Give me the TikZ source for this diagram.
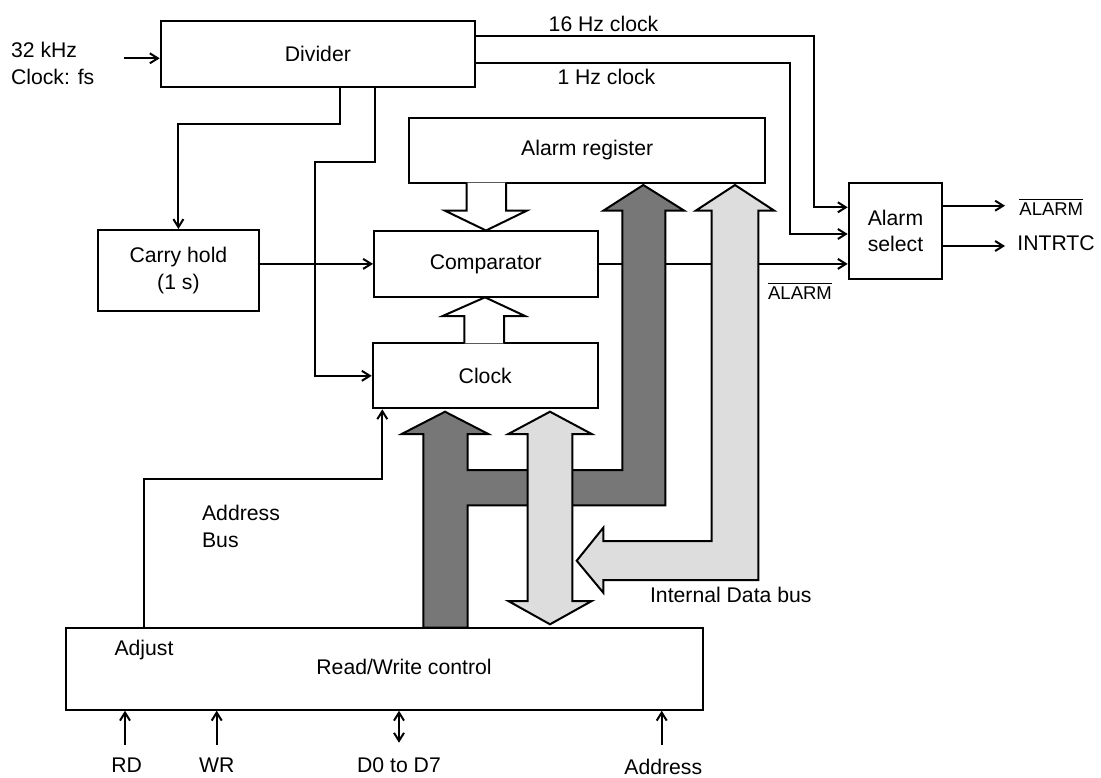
\documentclass[tikz,border=0pt]{standalone}
\usepackage{fontspec}
\setmainfont{Liberation Sans}
\usetikzlibrary{arrows.meta}
\definecolor{darkbus}{HTML}{777777}
\definecolor{lightbus}{HTML}{DDDDDD}
\begin{document}
\begin{tikzpicture}[x=0.5pt,y=-0.5pt,
  font=\fontsize{10.6}{13.4}\selectfont,
  box/.style={draw, line width=1pt, inner sep=0pt, align=center, fill=white},
  wire/.style={line width=1pt},
  arr/.style={wire, -{Straight Barb[length=4pt,width=5pt]}},
  darr/.style={wire, {Straight Barb[length=4pt,width=5pt]}-{Straight Barb[length=4pt,width=5pt]}},
  lbl/.style={inner sep=0pt},
  small/.style={font=\fontsize{9.25}{11}\selectfont},
  bus/.style={draw, line width=1pt, line join=miter}]
\useasboundingbox (0,0) rectangle (1101,777);

% blocks
\node[box, minimum width=157.2pt, minimum height=32.9pt] (div) at (317.9,53.9) {Divider};
\node[box, minimum width=80.7pt, minimum height=40.5pt] (carry) at (178.4,270.5) {Carry hold\\(1 s)};
\node[box, minimum width=177.9pt, minimum height=32.5pt] (areg) at (587.2,150.2) {Alarm register};
\node[box, minimum width=111.8pt, minimum height=32.9pt] (comp) at (485.8,263.9) {Comparator};
\node[box, minimum width=112.5pt, minimum height=32.5pt] (clock) at (485.2,375.8) {Clock};
\node[box, minimum width=46.8pt, minimum height=48.3pt] (sel) at (895.5,231) {Alarm\\select};
\node[box, minimum width=318.7pt, minimum height=41pt] (rw) at (384.7,668.7) {};
\node[lbl] (rwt) at (404,667) {Read/Write control};
\node[lbl] (adj) at (144,650) {Adjust};

% labels
\node[lbl, anchor=west, align=left] (clkin) at (10.7,63.5) {32 kHz\\Clock: fs};
\node[lbl] (l16) at (603.5,24) {16 Hz clock};
\node[lbl] (l1) at (606.4,77) {1 Hz clock};
\node[lbl, small] (alarmb) at (800,291) {$\overline{\mbox{ALARM}}$};
\node[lbl, small, anchor=west] (alarmo) at (1019,207) {$\overline{\mbox{ALARM}}$};
\node[lbl, anchor=west] (intrtc) at (1017,242.7) {INTRTC};
\node[lbl] (idb) at (730.8,595) {Internal Data bus};
\node[lbl, anchor=west, align=left] (abus) at (201.7,526.7) {Address\\Bus};
\node[lbl] (rd) at (126.7,765) {RD};
\node[lbl] (wr) at (216.7,765) {WR};
\node[lbl] (dd) at (399,765) {D0 to D7};
\node[lbl] (addr) at (663.3,766.7) {Address};

% coordinates
\coordinate (cin) at (124,58.3);
\coordinate (d1) at (340,124);
\coordinate (d2) at (374.7,162.3);
\coordinate (d3) at (315,162.3);
\coordinate (h16) at (814,35.7);
\coordinate (v16) at (814,207.3);
\coordinate (h1) at (790,62.7);
\coordinate (v1) at (790,234);
\coordinate (o1) at (1005,205.7);
\coordinate (o2) at (1005,246);
\coordinate (a1) at (144.3,479.3);
\coordinate (a2) at (382.3,479.3);
\coordinate (rdb) at (125,745);
\coordinate (wrb) at (216.7,745);
\coordinate (ddb) at (399,742.7);
\coordinate (adb) at (661.7,745);

% wires
\draw[arr] (cin) -- (cin -| div.west);
\draw[arr] (d1 |- div.south) -- (d1) -| (carry.north);
\draw[arr] (d2 |- div.south) -- (d2) -- (d3) |- (clock.west);
\draw[arr] (comp.west -| carry.east) -- (comp.west);
\draw[arr] (div.east |- h16) -- (h16) -- (v16) -- (v16 -| sel.west);
\draw[arr] (div.east |- h1) -- (h1) -- (v1) -- (v1 -| sel.west);
\draw[arr] (comp.east) -- (comp.east -| sel.west);
\draw[arr] (sel.east |- o1) -- (o1);
\draw[arr] (sel.east |- o2) -- (o2);
\draw[arr] (rw.north -| a1) -- (a1) -- (a2) -- (a2 |- clock.south);
\draw[arr] (rdb) -- (rdb |- rw.south);
\draw[arr] (wrb) -- (wrb |- rw.south);
\draw[darr] (ddb) -- (ddb |- rw.south);
\draw[arr] (adb) -- (adb |- rw.south);

% hollow arrows
\draw[bus, fill=white] (466.7,182.7) -- (466.7,210.7) -- (445,210.7) -- (486,230.5) -- (526.7,210.7) -- (506,210.7) -- (506,182.7);
\draw[bus, fill=white] (464.3,343.3) -- (464.3,316) -- (442.7,316) -- (485,297.3) -- (525,316) -- (504,316) -- (504,343.3);

% dark bus
\draw[bus, fill=darkbus] (423.3,627.7) -- (423.3,434) -- (401.7,434) -- (445,411.7) -- (488.3,434) -- (467.7,434) -- (467.7,470) -- (622.3,470) -- (622.3,210.7) -- (603.3,210.7) -- (643.3,185) -- (684.3,210.7) -- (665.3,210.7) -- (665.3,505.3) -- (467.7,505.3) -- (467.7,627.7) -- cycle;
% light double arrow
\draw[bus, fill=lightbus] (527.7,434) -- (508.3,434) -- (550,411.7) -- (591.7,434) -- (572.3,434) -- (572.3,601) -- (591.7,601) -- (550,624.3) -- (508.3,601) -- (527.7,601) -- cycle;
% light L bus
\draw[bus, fill=lightbus] (711.7,210.7) -- (695.7,210.7) -- (735,185) -- (774.3,210.7) -- (758.3,210.7) -- (758.3,580) -- (603.3,580) -- (603.3,592.7) -- (576.7,560.7) -- (603.3,527.7) -- (603.3,541) -- (711.7,541) -- cycle;
\end{tikzpicture}
\end{document}
